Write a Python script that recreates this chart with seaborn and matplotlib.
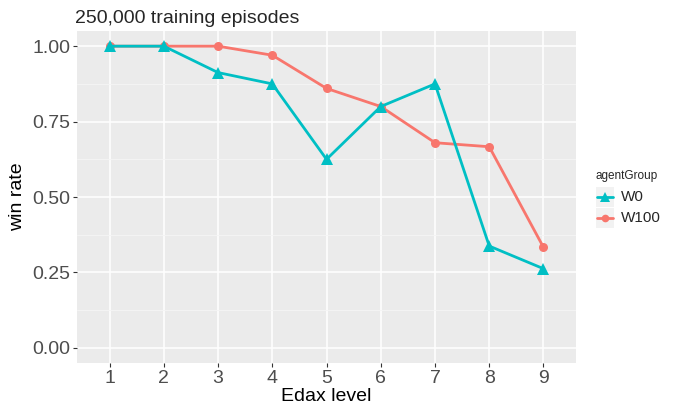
import matplotlib
matplotlib.use("Agg")
import matplotlib.pyplot as plt
import pandas as pd
import seaborn as sns
from matplotlib.patches import Rectangle
from matplotlib.ticker import MultipleLocator

# data
edax_levels = [1, 2, 3, 4, 5, 6, 7, 8, 9]
win_w0 = [1.0, 1.0, 0.9125, 0.875, 0.625, 0.80, 0.875, 0.3375, 0.2625]
win_w100 = [1.0, 1.0, 1.0, 0.97, 0.86, 0.80, 0.68, 0.6667, 0.3333]
groups = ["W0", "W100"]
palette = {"W0": "#00BFC4", "W100": "#F8766D"}
markers = {"W0": "^", "W100": "o"}
msizes = {"W0": 8, "W100": 6.5}

df = pd.DataFrame({
    "Edax level": edax_levels * 2,
    "win rate": win_w0 + win_w100,
    "agentGroup": ["W0"] * len(win_w0) + ["W100"] * len(win_w100),
})

sns.set_theme(style="darkgrid")
plt.rcParams["font.family"] = ["Liberation Sans", "DejaVu Sans"]

fig = plt.figure(figsize=(6.78, 4.09), dpi=100)
ax = fig.add_axes([0.1136, 0.1125, 0.7360, 0.8115])
ax.set_facecolor("#EBEBEB")

# W100 first so W0 sits on top, as in the reference
for g in ["W100", "W0"]:
    sns.lineplot(
        data=df[df["agentGroup"] == g], x="Edax level", y="win rate",
        color=palette[g], marker=markers[g], linewidth=2, markersize=msizes[g],
        markeredgewidth=0, ax=ax,
    )

ax.set_xlim(0.4, 9.6)
ax.set_ylim(-0.05, 1.05)
ax.set_xticks(edax_levels)
ax.set_yticks([0, 0.25, 0.5, 0.75, 1.0])
ax.set_yticklabels(["0.00", "0.25", "0.50", "0.75", "1.00"])
ax.yaxis.set_minor_locator(MultipleLocator(0.125))
ax.grid(which="major", color="white", linewidth=1.1)
ax.grid(which="minor", axis="y", color="#F5F5F5", linewidth=0.6)
ax.grid(which="minor", axis="x", visible=False)
for s in ax.spines.values():
    s.set_visible(False)
ax.tick_params(axis="both", which="major", length=3, width=0.8, color="#333333",
               labelsize=14, labelcolor="#4D4D4D", pad=2, left=True, bottom=True)
ax.tick_params(which="minor", length=0)
ax.set_xlabel("Edax level", fontsize=14, color="black", labelpad=1)
ax.set_ylabel("win rate", fontsize=14, color="black", labelpad=4)
ax.set_title("250,000 training episodes", loc="left", fontsize=14, pad=6, x=-0.004)

# legend, ggplot-like
fig.text(595 / 678, 1 - 176 / 409, "agentGroup", fontsize=8.5, va="center", ha="left")
for i, g in enumerate(groups):
    top = 187 + i * 21
    fig.patches.append(Rectangle((596 / 678, 1 - (top + 20) / 409), 18 / 678, 20 / 409,
                                 transform=fig.transFigure, facecolor="#F2F2F2",
                                 edgecolor="none", zorder=0))
    yc = 1 - (top + 10) / 409
    fig.add_artist(plt.Line2D([597 / 678, 613 / 678], [yc, yc], transform=fig.transFigure,
                              color=palette[g], linewidth=2))
    fig.add_artist(plt.Line2D([605 / 678], [yc], transform=fig.transFigure,
                              color=palette[g], marker=markers[g], markersize=msizes[g] - 1,
                              markeredgewidth=0, linestyle="none"))
    fig.text(621 / 678, yc, g, fontsize=11, va="center", ha="left")

fig.savefig("out.png", dpi=100, facecolor="white")
